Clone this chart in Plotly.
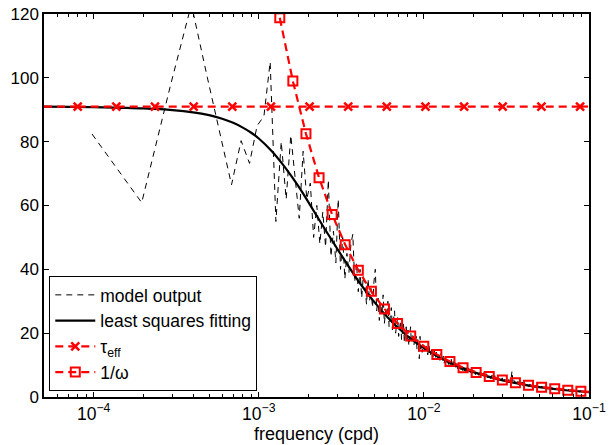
import plotly.graph_objects as go

# ---------------- data ----------------
T_DAYS = 10240.0  # record length -> frequency resolution k / T

model_k = (list(range(1, 101)) + list(range(102, 201, 2)) +
           list(range(205, 401, 5)) + list(range(410, 1021, 10)))
model_val = [
    82.4, 60.9, 98, 123, 100, 82, 66.5, 80.3, 73.2, 85,
    88, 105, 55, 80, 62, 82, 69, 56, 77, 62,
    67, 50, 60, 48, 58, 47, 68, 44, 52, 42,
    62, 40, 50, 37, 45, 39, 48, 51, 36, 42,
    33, 40, 31, 38, 35, 29, 37, 30, 34, 28,
    36, 40, 27, 31, 24, 29, 26, 32, 23, 27,
    25, 30, 22, 26, 28, 21, 24, 27, 20, 23,
    25, 19, 22, 24, 18, 21, 23, 17, 20, 22,
    18, 21, 16, 19, 22, 17, 18, 20, 16, 18,
    17, 19, 15, 18, 16, 12, 19, 15, 16, 14,
    # k = 102..200 step 2
    16.5, 13.8, 15.9, 13.2, 16.0, 12.9, 14.8, 12.5, 15.2, 12.0,
    14.1, 11.8, 13.9, 11.5, 13.6, 11.0, 12.8, 10.6, 12.9, 10.9,
    12.3, 10.2, 11.9, 9.8, 11.8, 9.9, 11.2, 9.5, 11.0, 9.3,
    10.9, 8.8, 10.4, 8.9, 10.3, 8.5, 9.9, 8.3, 9.8, 8.1,
    9.6, 7.9, 9.2, 7.7, 9.1, 7.6, 8.8, 7.3, 8.7, 7.4,
    # k = 205..400 step 5
    8.6, 7.0, 8.2, 6.8, 7.9, 6.5, 7.6, 6.3, 7.4, 6.0,
    7.1, 5.8, 6.9, 5.6, 6.7, 5.4, 6.5, 5.2, 6.2, 5.0,
    6.0, 4.9, 5.8, 4.7, 5.7, 4.6, 5.5, 4.5, 5.4, 8.2,
    4.3, 5.2, 4.2, 5.0, 4.1, 4.9, 4.0, 4.8, 3.9, 4.6,
    # k = 410..1020 step 10
    4.5, 3.5, 4.2, 3.3, 4.0, 3.2, 3.9, 3.1, 3.7, 2.9,
    3.6, 2.8, 3.4, 2.7, 3.3, 2.6, 3.2, 2.5, 3.1, 2.4,
    3.0, 2.3, 2.9, 2.2, 2.8, 2.2, 2.7, 2.1, 2.6, 2.0,
    2.6, 2.0, 2.5, 1.9, 2.4, 1.9, 2.4, 1.8, 2.3, 1.8,
    2.2, 1.7, 2.2, 1.7, 2.1, 1.6, 2.1, 1.6, 2.0, 1.5,
    2.0, 1.5, 1.9, 1.5, 1.9, 1.4, 1.8, 1.4, 1.8, 1.3,
    1.7, 1.3,
]
model_freq = [k / T_DAYS for k in model_k]

fit_freq = [5e-5, 1e-4, 1.5e-4, 2e-4, 3e-4, 4e-4, 5e-4, 6e-4, 7e-4, 8e-4, 9e-4,
            1e-3, 1.2e-3, 1.4e-3, 1.6e-3, 1.8e-3, 2e-3, 2.5e-3, 3e-3, 3.5e-3,
            4e-3, 5e-3, 6e-3, 7e-3, 8e-3, 1e-2, 1.2e-2, 1.5e-2, 2e-2, 3e-2,
            4e-2, 5e-2, 7e-2, 1e-1]
fit_val = [91.0, 90.8, 90.6, 90.4, 89.9, 89.2, 88.3, 87.2, 85.9, 84.4, 82.8,
           81.0, 77.0, 72.8, 68.7, 64.8, 61.0, 52.8, 46.3, 40.9,
           36.4, 29.8, 25.1, 21.6, 19.0, 15.3, 12.8, 10.3, 7.8, 5.2,
           3.9, 3.1, 2.2, 1.55]

tau_freq = [8.0e-5, 1.371e-4, 2.35e-4, 4.03e-4, 6.91e-4, 1.184e-3, 2.03e-3,
            3.48e-3, 5.96e-3, 1.022e-2, 1.752e-2, 3.00e-2, 5.15e-2, 8.83e-2]
tau_val = [91] * len(tau_freq)
tau_line_freq = [5e-5, 8.0e-5, None, 8.83e-2, 1e-1]
tau_line_val = [91, 91, None, 91, 91]

omega_freq = [1.340e-3, 1.608e-3, 1.930e-3, 2.317e-3, 2.781e-3, 3.337e-3,
              4.006e-3, 4.808e-3, 5.771e-3, 6.927e-3, 8.318e-3, 9.984e-3,
              1.198e-2, 1.438e-2, 1.727e-2, 2.073e-2, 2.488e-2, 2.986e-2,
              3.584e-2, 4.302e-2, 5.164e-2, 6.198e-2, 7.440e-2, 8.930e-2]
omega_val = [118.8, 99.0, 82.5, 68.7, 57.2, 47.7, 39.7, 33.1, 27.6, 23.0,
             19.1, 15.9, 13.3, 11.1, 9.2, 7.7, 6.4, 5.33, 4.44, 3.70,
             3.08, 2.57, 2.14, 1.78]
omega_line_freq = [1.117e-3, 1.340e-3, None, 8.930e-2, 1e-1]
omega_line_val = [142.5, 118.8, None, 1.78, 1.59]

x_tick_vals = [1e-4, 1e-3, 1e-2, 1e-1]
x_tick_text = ["10<sup>\u22124</sup>", "10<sup>\u22123</sup>",
               "10<sup>\u22122</sup>", "10<sup>\u22121</sup>"]
x_minor_vals = [6e-5, 7e-5, 8e-5, 9e-5,
                2e-4, 3e-4, 4e-4, 5e-4, 6e-4, 7e-4, 8e-4, 9e-4,
                2e-3, 3e-3, 4e-3, 5e-3, 6e-3, 7e-3, 8e-3, 9e-3,
                2e-2, 3e-2, 4e-2, 5e-2, 6e-2, 7e-2, 8e-2, 9e-2]
y_tick_vals = [0, 20, 40, 60, 80, 100, 120]

# ---------------- figure ----------------
RED = "#ff0000"
fig = go.Figure()

fig.add_trace(go.Scatter(
    x=model_freq, y=model_val, mode="lines", name="model output",
    legendgroup="a",
    line=dict(color="black", width=1, dash="6px,5px")))

fig.add_trace(go.Scatter(
    x=fit_freq, y=fit_val, mode="lines", name="least squares fitting",
    legendgroup="b", line=dict(color="black", width=2.2, shape="spline")))

fig.add_trace(go.Scatter(
    x=tau_line_freq, y=tau_line_val, mode="lines", showlegend=False,
    legendgroup="c", line=dict(color=RED, width=2.2, dash="8px,5px")))
fig.add_trace(go.Scatter(
    x=tau_freq, y=tau_val, mode="lines+markers", name="\u03c4<sub>eff</sub>",
    legendgroup="c",
    line=dict(color=RED, width=2.2, dash="8px,5px"),
    marker=dict(symbol="x-thin", size=8, color=RED,
                line=dict(color=RED, width=2.5))))

fig.add_trace(go.Scatter(
    x=omega_line_freq, y=omega_line_val, mode="lines", showlegend=False,
    legendgroup="d", line=dict(color=RED, width=2.2, dash="8px,5px")))
fig.add_trace(go.Scatter(
    x=omega_freq, y=omega_val, mode="lines+markers", name="1/\u03c9",
    legendgroup="d",
    line=dict(color=RED, width=2.2, dash="8px,5px"),
    marker=dict(symbol="square-open", size=9, color=RED,
                line=dict(color=RED, width=2))))

FONT = "Liberation Sans, Arial, sans-serif"
fig.update_layout(
    width=609, height=445,
    margin=dict(l=44, r=20, t=14, b=48),
    paper_bgcolor="white", plot_bgcolor="white",
    font=dict(family=FONT, size=17, color="black"),
    showlegend=True,
    legend=dict(x=0.0097, y=0.0157, xanchor="left", yanchor="bottom",
                bordercolor="black", borderwidth=1, bgcolor="white",
                font=dict(family=FONT, size=17.5, color="black"),
                itemwidth=40, tracegroupgap=0, traceorder="normal"),
    xaxis=dict(type="log", range=[-4.30103, -1], automargin=False,
               tickmode="array", tickvals=x_tick_vals, ticktext=x_tick_text,
               ticks="inside", ticklen=5, tickwidth=1, tickcolor="black",
               minor=dict(tickmode="array", tickvals=x_minor_vals,
                          ticks="inside", ticklen=3, tickcolor="black",
                          tickwidth=1, showgrid=False),
               showline=True, linecolor="black", linewidth=1.5,
               mirror="ticks", showgrid=False, zeroline=False,
               tickfont=dict(family=FONT, size=17.5),
               title=dict(text="frequency (cpd)", standoff=4,
                          font=dict(family=FONT, size=18))),
    yaxis=dict(range=[0, 120], tickvals=y_tick_vals, automargin=False,
               ticks="inside", ticklen=5, tickwidth=1, tickcolor="black",
               showline=True, linecolor="black", linewidth=1.5,
               mirror="ticks", showgrid=False, zeroline=False,
               tickfont=dict(family=FONT, size=17)),
)

fig.write_html("out.html")
